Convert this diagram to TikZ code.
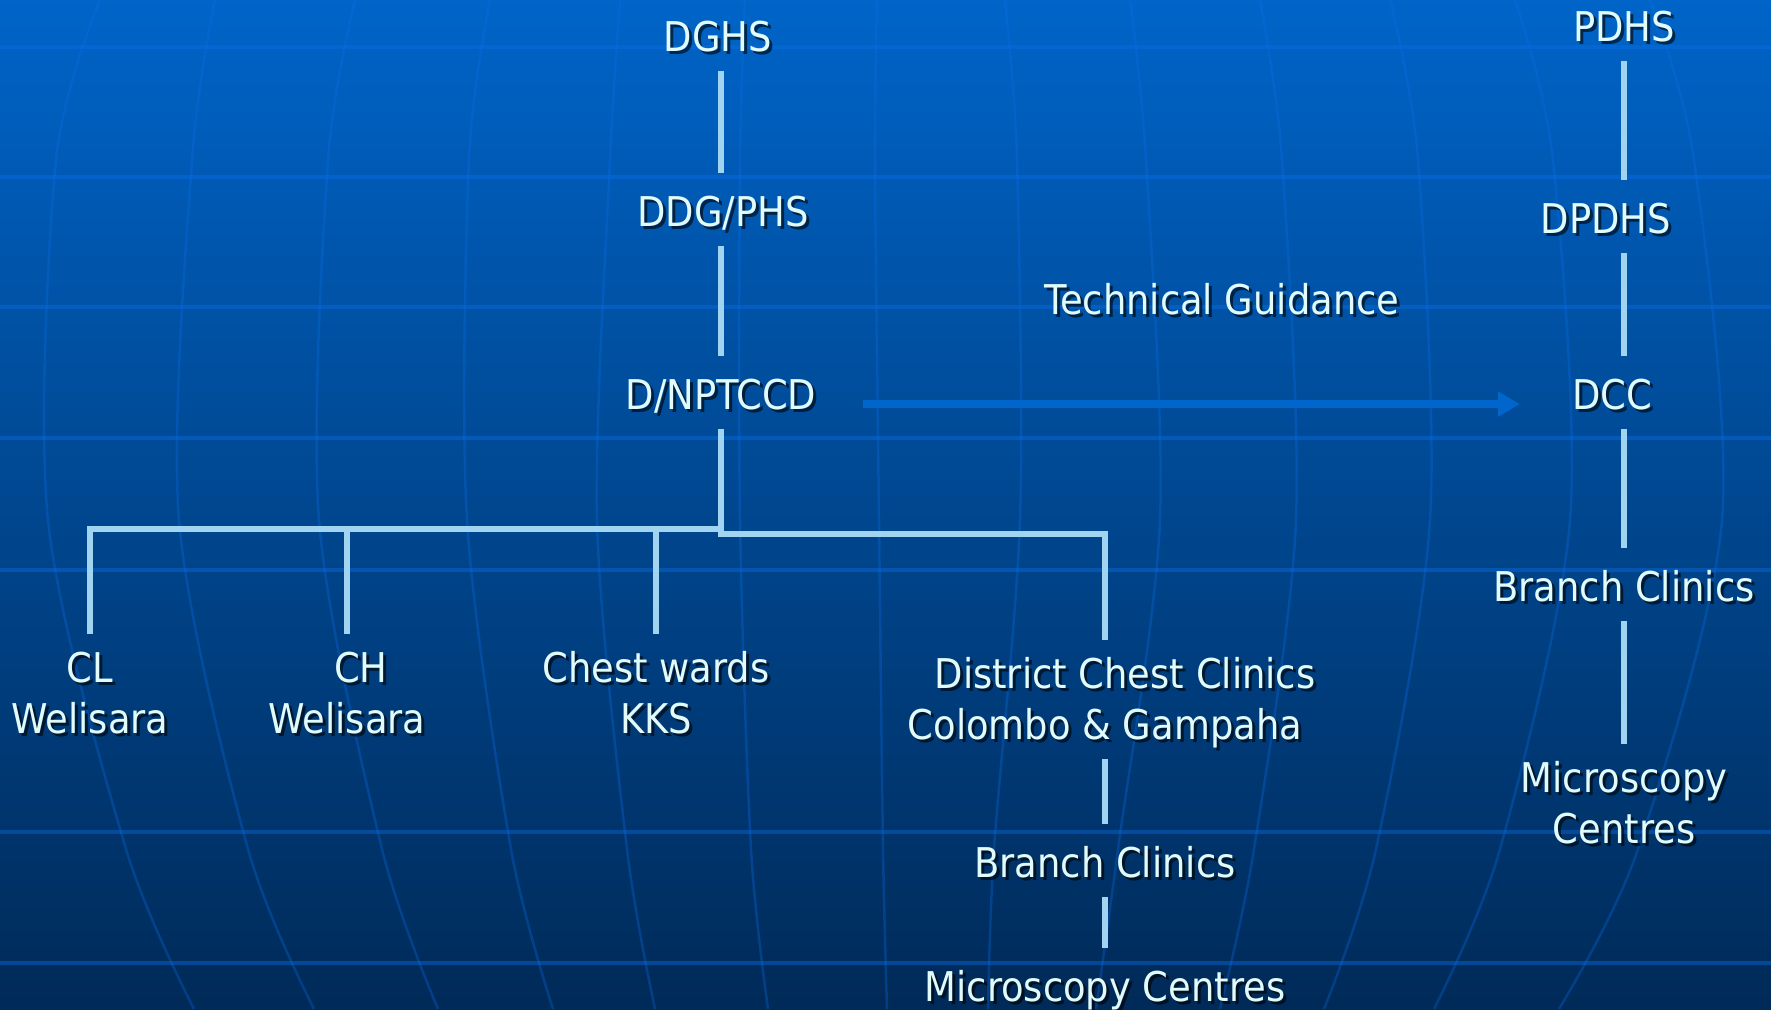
\documentclass[tikz,border=0pt]{standalone}
\usepackage{fontspec}
\setmainfont{DejaVu Sans Condensed}
\usetikzlibrary{arrows.meta,calc,positioning}

\definecolor{bgtop}{RGB}{0,100,200}
\definecolor{bgmid}{RGB}{0,72,142}
\definecolor{bgbot}{RGB}{0,42,88}
\definecolor{gridblue}{RGB}{10,110,235}
\definecolor{linkblue}{RGB}{160,212,240}
\definecolor{arrowblue}{RGB}{0,102,204}
\definecolor{labelwhite}{RGB}{225,250,250}

\tikzset{
  orgtext/.style={text=labelwhite, inner sep=0pt, align=center,
    font=\fontsize{41}{51}\selectfont, execute at begin node=\strut},
  orgshadow/.style={orgtext, text=black, text opacity=0.6, shift={(3,3)}},
  link/.style={draw=linkblue, line width=6pt, shorten <=4pt, shorten >=17pt},
  guide/.style={draw=arrowblue, line width=8pt, -{Triangle[length=22pt,width=24pt]}},
  gridline/.style={draw=gridblue, line width=4pt, opacity=0.4},
  meridian/.style={draw=gridblue, line width=2.5pt, opacity=0.3},
}

% text with a soft drop shadow: name, position, text
\newcommand{\orgunit}[3]{%
  \node[orgshadow] at (#2) {#3};
  \node[orgtext] (#1) at (#2) {#3};
}

\begin{document}
\begin{tikzpicture}[x=1pt, y=-1pt]
  \useasboundingbox (0,0) rectangle (1771,1009);
  % background globe
  \shade[top color=bgtop, middle color=bgmid, bottom color=bgbot] (0,0) rectangle (1771,1009);
  \foreach \a/\b/\c/\d/\e in {100/56/48/126/194, 215/192/179/248/314, 355/328/319/382/438,
      490/469/467/511/553, 620/610/597/627/655, 745/740/740/751/768, 877/875/879/883/887,
      1005/1017/1020/994/988, 1130/1146/1160/1118/1096, 1260/1282/1296/1254/1220,
      1390/1418/1430/1376/1324, 1515/1553/1570/1500/1434, 1650/1694/1722/1638/1559}
    \draw[meridian] plot[smooth] coordinates {(\a,0) (\b,160) (\c,520) (\d,849) (\e,1009)};
  \foreach \y in {47,177,307,438,570,832,963}
    \draw[gridline] (0,\y) -- (1771,\y);

  % national programme
  \orgunit{dghs}{718,41}{DGHS}
  \orgunit{ddg}{723,216}{DDG/PHS}
  \orgunit{dnp}{721,399}{D/NPTCCD}
  \orgunit{cl}{90,700}{CL\\\strut Welisara}
  \orgunit{ch}{347,700}{\hspace*{28pt}CH\\\strut Welisara}
  \orgunit{kks}{656,700}{Chest wards\\\strut KKS}
  \orgunit{district}{1105,706}{\hspace*{40pt}District Chest Clinics\\\strut Colombo \& Gampaha}
  \orgunit{bcl}{1105,867}{Branch Clinics}
  \orgunit{mcl}{1105,991}{Microscopy Centres}

  % provincial side
  \orgunit{pdhs}{1624,31}{PDHS}
  \orgunit{dpdhs}{1606,223}{DPDHS}
  \orgunit{dcc}{1612,399}{DCC}
  \orgunit{bcr}{1624,591}{Branch Clinics}
  \orgunit{mcr}{1624,810}{Microscopy\\\strut Centres}
  \orgunit{tech}{1222,304}{Technical Guidance}

  % links
  \draw[link] (dnp |- dghs.south) -- (dnp |- ddg.north);
  \draw[link] (dnp |- ddg.south) -- (dnp);
  \draw[link] (district.south) -- (bcl);
  \draw[link] (bcl) -- (mcl);
  \draw[link] (pdhs) -- (pdhs |- dpdhs.north);
  \draw[link] (pdhs |- dpdhs.south) -- (pdhs |- dcc.north);
  \draw[link] (pdhs |- dcc.south) -- (bcr);
  \draw[link] (bcr) -- (mcr);

  % branching below D/NPTCCD
  \coordinate (split) at (721,529);
  \coordinate (splitr) at (718,534);
  \draw[link, shorten >=0pt] (dnp) -- (split);
  \draw[link, shorten <=0pt] ([xshift=3pt]split) -| (cl);
  \draw[link, shorten <=0pt] (split -| ch) -- (ch);
  \draw[link, shorten <=0pt] (split -| kks) -- (kks);
  \draw[link, shorten <=0pt] (splitr) -| (district);

  % technical guidance arrow
  \draw[guide] ([shift={(46,5)}]dnp.east) -- ([shift={(-52,5)}]dcc.west);
\end{tikzpicture}
\end{document}
